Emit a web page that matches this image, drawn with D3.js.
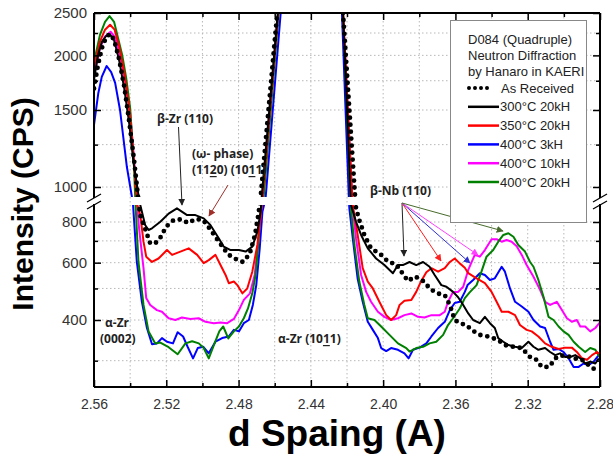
<!DOCTYPE html>
<html>
<head>
<meta charset="utf-8">
<script src="https://cdn.jsdelivr.net/npm/d3@7/dist/d3.min.js"></script>
<style>
  body { margin: 0; background: #fff; }
  svg { display: block; }
  text { font-family: 'Liberation Sans', Arial, sans-serif; }
  .ann { font-family: 'Open Sans', sans-serif; font-weight: 700; font-size: 12px; fill: #222; }
</style>
</head>
<body>
<div id="chart"></div>
<script>
// d spacing (A) vs intensity (CPS)
const asReceived = [[2.5600,1680],[2.5578,1900],[2.5556,2080],[2.5533,2200],[2.5511,2240],[2.5489,2170],[2.5461,1960],[2.5433,1700],[2.5406,1420],[2.5378,1150],[2.5356,948],[2.5344,840],[2.5289,688],[2.5261,688],[2.5233,716],[2.5200,775],[2.5159,811],[2.5118,815],[2.5079,794],[2.5039,817],[2.4996,811],[2.4961,765],[2.4909,696],[2.4859,637],[2.4822,618],[2.4776,603],[2.4739,637],[2.4709,730],[2.4691,840],[2.4678,948],[2.4586,2500],[2.4400,20000],[2.4222,2500],[2.4150,881],[2.4132,811],[2.4104,730],[2.4067,664],[2.4015,637],[2.3971,603],[2.3928,593],[2.3863,527],[2.3822,544],[2.3779,527],[2.3737,497],[2.3700,483],[2.3659,477],[2.3631,445],[2.3604,400],[2.3576,391],[2.3539,386],[2.3511,373],[2.3465,360],[2.3418,356],[2.3363,347],[2.3326,335],[2.3279,331],[2.3233,328],[2.3187,308],[2.3159,305],[2.3122,287],[2.3082,287],[2.3039,308],[2.2993,312],[2.2946,305],[2.2900,302],[2.2863,291],[2.2826,281]]

const c300_20k = [[2.5600,1757],[2.5578,2004],[2.5556,2150],[2.5533,2215],[2.5511,2231],[2.5489,2170],[2.5461,1952],[2.5433,1685],[2.5406,1408],[2.5383,1153],[2.5361,1000],[2.5344,902],[2.5317,783],[2.5298,756],[2.5279,765],[2.5233,801],[2.5187,849],[2.5141,881],[2.5085,840],[2.5039,840],[2.4993,821],[2.4956,783],[2.4909,712],[2.4882,672],[2.4844,656],[2.4798,656],[2.4761,649],[2.4724,672],[2.4696,747],[2.4678,860],[2.4672,948],[2.4583,2500],[2.4400,20000],[2.4222,2500],[2.4178,902],[2.4150,801],[2.4122,730],[2.4085,664],[2.4039,618],[2.3993,590],[2.3946,557],[2.3918,590],[2.3891,590],[2.3854,603],[2.3817,590],[2.3779,603],[2.3743,583],[2.3715,550],[2.3678,512],[2.3650,506],[2.3613,488],[2.3585,470],[2.3557,445],[2.3529,419],[2.3502,400],[2.3465,391],[2.3437,409],[2.3409,391],[2.3382,378],[2.3363,352],[2.3335,343],[2.3307,335],[2.3270,331],[2.3233,328],[2.3196,343],[2.3168,331],[2.3141,324],[2.3104,328],[2.3076,319],[2.3048,312],[2.3021,316],[2.2993,308],[2.2965,308],[2.2937,312],[2.2909,305],[2.2882,294],[2.2854,298],[2.2826,294],[2.2807,305]]

const c350_20k = [[2.5600,1880],[2.5567,2150],[2.5539,2290],[2.5511,2350],[2.5486,2290],[2.5461,2100],[2.5433,1830],[2.5406,1530],[2.5383,1200],[2.5361,905],[2.5344,840],[2.5326,696],[2.5311,626],[2.5279,603],[2.5243,618],[2.5196,656],[2.5168,634],[2.5122,649],[2.5076,664],[2.5029,634],[2.4993,598],[2.4965,611],[2.4928,634],[2.4900,590],[2.4872,550],[2.4854,519],[2.4826,525],[2.4807,512],[2.4779,483],[2.4752,500],[2.4724,563],[2.4696,680],[2.4678,840],[2.4667,948],[2.4581,2500],[2.4400,20000],[2.4222,2500],[2.4168,902],[2.4141,730],[2.4113,577],[2.4085,525],[2.4057,500],[2.4021,455],[2.3983,414],[2.3956,400],[2.3928,414],[2.3909,445],[2.3882,458],[2.3844,461],[2.3817,488],[2.3793,522],[2.3761,561],[2.3733,577],[2.3696,563],[2.3659,577],[2.3631,603],[2.3604,618],[2.3576,597],[2.3548,579],[2.3529,557],[2.3483,537],[2.3437,519],[2.3400,488],[2.3372,455],[2.3344,424],[2.3307,424],[2.3270,414],[2.3243,386],[2.3206,373],[2.3178,369],[2.3141,356],[2.3104,339],[2.3067,331],[2.3029,326],[2.2993,329],[2.2956,329],[2.2928,319],[2.2900,305],[2.2872,302],[2.2844,312],[2.2817,319],[2.2793,312]]

const c400_3k = [[2.5600,1387],[2.5576,1641],[2.5557,1786],[2.5530,1891],[2.5505,1832],[2.5483,1730],[2.5456,1500],[2.5418,1111],[2.5385,922],[2.5363,603],[2.5335,455],[2.5307,378],[2.5279,337],[2.5252,339],[2.5224,352],[2.5196,343],[2.5163,339],[2.5137,367],[2.5107,356],[2.5082,331],[2.5052,305],[2.5026,328],[2.4996,331],[2.4965,316],[2.4928,343],[2.4891,352],[2.4854,356],[2.4826,373],[2.4798,369],[2.4771,391],[2.4743,400],[2.4721,445],[2.4702,512],[2.4683,664],[2.4668,860],[2.4650,948],[2.4567,2500],[2.4400,20000],[2.4228,2500],[2.4187,881],[2.4168,712],[2.4141,535],[2.4113,455],[2.4085,395],[2.4057,373],[2.4029,352],[2.4011,328],[2.3983,321],[2.3956,328],[2.3918,324],[2.3882,316],[2.3859,305],[2.3835,324],[2.3798,329],[2.3761,339],[2.3733,356],[2.3696,378],[2.3659,395],[2.3631,429],[2.3604,451],[2.3576,455],[2.3548,488],[2.3533,512],[2.3502,531],[2.3465,557],[2.3437,550],[2.3409,531],[2.3382,537],[2.3344,583],[2.3326,563],[2.3298,500],[2.3270,455],[2.3233,440],[2.3196,424],[2.3168,400],[2.3131,382],[2.3104,378],[2.3076,343],[2.3057,324],[2.3029,326],[2.3002,319],[2.2974,305],[2.2946,287],[2.2918,287],[2.2891,294],[2.2863,291],[2.2835,298],[2.2807,312],[2.2793,305]]

const c400_10k = [[2.5600,1800],[2.5567,2080],[2.5539,2210],[2.5508,2265],[2.5483,2200],[2.5456,2000],[2.5428,1750],[2.5400,1480],[2.5378,1150],[2.5350,760],[2.5326,577],[2.5311,467],[2.5289,445],[2.5252,429],[2.5224,424],[2.5187,405],[2.5150,400],[2.5113,407],[2.5067,403],[2.5021,405],[2.4983,395],[2.4937,391],[2.4900,393],[2.4863,391],[2.4826,403],[2.4798,429],[2.4771,461],[2.4737,483],[2.4711,550],[2.4691,696],[2.4674,881],[2.4664,948],[2.4581,2500],[2.4400,20000],[2.4222,2500],[2.4168,881],[2.4150,712],[2.4122,550],[2.4094,488],[2.4067,455],[2.4029,424],[2.3993,409],[2.3956,400],[2.3918,405],[2.3882,414],[2.3844,419],[2.3807,409],[2.3771,407],[2.3733,414],[2.3687,414],[2.3659,424],[2.3641,455],[2.3613,488],[2.3585,488],[2.3557,506],[2.3529,570],[2.3493,634],[2.3465,626],[2.3437,656],[2.3400,708],[2.3372,708],[2.3344,696],[2.3317,704],[2.3289,696],[2.3261,674],[2.3233,634],[2.3206,590],[2.3168,543],[2.3131,494],[2.3104,455],[2.3076,445],[2.3039,455],[2.3011,429],[2.2983,405],[2.2956,395],[2.2928,400],[2.2909,382],[2.2882,382],[2.2854,369],[2.2826,378],[2.2798,395]]

const c400_20k = [[2.5600,1932],[2.5567,2228],[2.5539,2386],[2.5514,2460],[2.5489,2386],[2.5467,2193],[2.5444,2004],[2.5422,1776],[2.5400,1516],[2.5378,1100],[2.5354,603],[2.5326,445],[2.5298,369],[2.5261,339],[2.5233,341],[2.5187,330],[2.5137,314],[2.5094,339],[2.5057,344],[2.5020,339],[2.4993,328],[2.4965,305],[2.4933,339],[2.4906,370],[2.4885,382],[2.4857,351],[2.4826,369],[2.4798,382],[2.4771,405],[2.4748,434],[2.4724,483],[2.4706,550],[2.4691,680],[2.4678,860],[2.4661,948],[2.4578,2500],[2.4400,20000],[2.4222,2500],[2.4178,881],[2.4159,680],[2.4132,525],[2.4104,445],[2.4085,405],[2.4048,400],[2.4011,382],[2.3965,360],[2.3918,339],[2.3872,328],[2.3854,320],[2.3817,328],[2.3779,331],[2.3743,339],[2.3706,343],[2.3668,360],[2.3641,386],[2.3613,405],[2.3576,434],[2.3548,467],[2.3520,487],[2.3483,512],[2.3456,563],[2.3428,626],[2.3391,656],[2.3363,696],[2.3335,730],[2.3307,739],[2.3279,721],[2.3252,680],[2.3215,649],[2.3187,603],[2.3168,583],[2.3141,531],[2.3113,472],[2.3085,409],[2.3057,400],[2.3029,382],[2.3002,369],[2.2974,360],[2.2946,343],[2.2918,331],[2.2882,319],[2.2854,328],[2.2826,324],[2.2798,305]]

const xMajor = [2.56, 2.52, 2.48, 2.44, 2.40, 2.36, 2.32, 2.28]
const xMinor = [2.54, 2.50, 2.46, 2.42, 2.38, 2.34, 2.30]
const upperLabels = [1000, 1500, 2000, 2500]
const upperMinor = [1250, 1750, 2250]
const lowerLabels = [400, 600, 800]
const lowerMinor = [300, 500, 700]

const legendTitle = ['D084 (Quadruple)', 'Neutron Diffraction', 'by Hanaro in KAERI']
const series = [
  { name: '400°C 3kH', color: '#0000ff', data: c400_3k },
  { name: '400°C 10kH', color: '#ff00ff', data: c400_10k },
  { name: '400°C 20kH', color: '#008000', data: c400_20k },
  { name: '350°C 20kH', color: '#ff0000', data: c350_20k },
  { name: '300°C 20kH', color: '#000000', data: c300_20k },
  { name: 'As Received', color: '#000000', data: asReceived, dotted: true }
]
const legendOrder = ['As Received', '300°C 20kH', '350°C 20kH', '400°C 3kH', '400°C 10kH', '400°C 20kH']

const W = 613, H = 457
const pL = 94, pR = 600, pT = 13, pB = 387

const svg = d3.select('#chart').append('svg').attr('width', W).attr('height', H)

const x = d3.scaleLinear().domain([2.56, 2.28]).range([pL, pR])
const yUp = d3.scaleLog().domain([1000, 2500]).range([187, 13])
const yLo = d3.scaleLog().domain([400, 800]).range([320, 222])

const panels = [
  { id: 'clipUp', y: yUp, y0: pT, y1: 197, ticks: upperLabels, minor: upperMinor },
  { id: 'clipLo', y: yLo, y0: 205, y1: pB, ticks: lowerLabels, minor: lowerMinor }
]

// grid
const grid = svg.append('g').attr('stroke', '#b8b8b8').attr('stroke-width', 1).attr('stroke-dasharray', '1.5,2.5')
xMinor.concat(xMajor.slice(1, -1)).forEach(v => {
  grid.append('line').attr('x1', x(v)).attr('x2', x(v)).attr('y1', pT).attr('y2', pB)
})
panels.forEach(p => {
  p.ticks.concat(p.minor).forEach(v => {
    const yy = p.y(v)
    if (yy < pT + 2) return
    grid.append('line').attr('x1', pL).attr('x2', pR).attr('y1', yy).attr('y2', yy)
  })
})

// series, drawn once per panel and clipped
panels.forEach(p => {
  svg.append('clipPath').attr('id', p.id).append('rect')
    .attr('x', pL).attr('y', p.y0).attr('width', pR - pL).attr('height', p.y1 - p.y0)
  const line = d3.line().x(d => x(d[0])).y(d => p.y(d[1]))
  const g = svg.append('g').attr('clip-path', `url(#${p.id})`)
  series.forEach(s => {
    const path = g.append('path').attr('d', line(s.data)).attr('fill', 'none').attr('stroke', s.color)
    if (s.dotted) {
      path.attr('stroke-width', 4.8).attr('stroke-linecap', 'round').attr('stroke-dasharray', '0,7')
    } else {
      path.attr('stroke-width', 2).attr('stroke-linejoin', 'round')
    }
  })
})

// axes with inward ticks
const fmt = d3.format('d')
panels.forEach(p => {
  const gl = svg.append('g').attr('transform', `translate(${pL},0)`)
    .call(d3.axisLeft(p.y).tickValues(p.ticks).tickFormat(fmt).tickSize(-7).tickPadding(7))
  gl.selectAll('text').attr('font-size', 15).attr('fill', '#333')
  svg.append('g').attr('transform', `translate(${pL},0)`)
    .call(d3.axisLeft(p.y).tickValues(p.minor).tickFormat('').tickSize(-4))
  svg.append('g').attr('transform', `translate(${pR},0)`)
    .call(d3.axisRight(p.y).tickValues(p.ticks).tickFormat('').tickSize(-7))
  svg.append('g').attr('transform', `translate(${pR},0)`)
    .call(d3.axisRight(p.y).tickValues(p.minor).tickFormat('').tickSize(-4))
})
const gx = svg.append('g').attr('transform', `translate(0,${pB})`)
  .call(d3.axisBottom(x).tickValues(xMajor).tickFormat(d3.format('.2f')).tickSize(-7).tickPadding(12))
gx.selectAll('text').attr('font-size', 14).attr('fill', '#333')
svg.append('g').attr('transform', `translate(0,${pB})`)
  .call(d3.axisBottom(x).tickValues(xMinor).tickFormat('').tickSize(-4))
svg.append('g').attr('transform', `translate(0,${pT})`)
  .call(d3.axisTop(x).tickValues(xMajor).tickFormat('').tickSize(-7))
svg.append('g').attr('transform', `translate(0,${pT})`)
  .call(d3.axisTop(x).tickValues(xMinor).tickFormat('').tickSize(-4))
svg.selectAll('.domain').remove()
svg.selectAll('.tick line').attr('stroke', '#000').attr('stroke-width', 1.5)

// frame with broken y axis
const frame = svg.append('g').attr('stroke', '#000').attr('stroke-width', 2).attr('fill', 'none')
frame.append('line').attr('x1', pL).attr('x2', pR).attr('y1', pT).attr('y2', pT)
frame.append('line').attr('x1', pL).attr('x2', pR).attr('y1', pB).attr('y2', pB)
;[pL, pR].forEach(xx => {
  frame.append('line').attr('x1', xx).attr('x2', xx).attr('y1', pT).attr('y2', 198)
  frame.append('line').attr('x1', xx).attr('x2', xx).attr('y1', 204).attr('y2', pB)
  frame.append('line').attr('x1', xx - 7).attr('y1', 202).attr('x2', xx + 7).attr('y2', 194).attr('stroke-width', 1.2)
  frame.append('line').attr('x1', xx - 7).attr('y1', 209).attr('x2', xx + 7).attr('y2', 201).attr('stroke-width', 1.2)
})

// axis titles
svg.append('text').attr('x', 337).attr('y', 446).attr('text-anchor', 'middle')
  .attr('font-size', 37).attr('font-weight', 700).attr('fill', '#000').text('d Spaing (A)')
svg.append('text').attr('transform', 'translate(33,204) rotate(-90)').attr('text-anchor', 'middle')
  .attr('font-size', 30).attr('font-weight', 700).attr('fill', '#000').text('Intensity (CPS)')

// arrows
const defs = svg.append('defs')
function arrow(x1, y1, x2, y2, color) {
  const id = 'ah' + color.replace('#', '')
  if (defs.select('#' + id).empty()) {
    defs.append('marker').attr('id', id).attr('viewBox', '0 0 10 10').attr('refX', 9).attr('refY', 5)
      .attr('markerWidth', 7).attr('markerHeight', 7).attr('markerUnits', 'userSpaceOnUse').attr('orient', 'auto')
      .append('path').attr('d', 'M0,0L10,5L0,10Z').attr('fill', color)
  }
  svg.append('line').attr('x1', x1).attr('y1', y1).attr('x2', x2).attr('y2', y2)
    .attr('stroke', color).attr('stroke-width', 1).attr('marker-end', `url(#${id})`)
}
arrow(178.5, 127, 182, 205, '#222222')
arrow(228, 185, 209, 216, '#a0302a')
arrow(402, 203, 404, 256, '#222222')
arrow(402, 203, 441, 261, '#ff2020')
arrow(402, 203, 470, 263, '#3030d0')
arrow(402, 203, 478, 255, '#ff40ff')
arrow(402, 203, 503, 231, '#476b2b')

// annotations
function ann(tx, ty, parts) {
  const t = svg.append('text').attr('class', 'ann').attr('x', tx).attr('y', ty).attr('dominant-baseline', 'central')
  parts.forEach(p => {
    const ts = t.append('tspan').text(typeof p === 'string' ? p : p.u)
    if (typeof p !== 'string') ts.style('text-decoration', 'underline')
  })
}
ann(157, 118, ['β-Zr (110)'])
ann(192, 153, ['(ω- phase)'])
ann(192, 169, ['(11', { u: '2' }, '0) (10', { u: '1' }, '1)'])
ann(105, 322, ['α-Zr'])
ann(100, 338, ['(0002)'])
ann(278, 338, ['α-Zr (10', { u: '1' }, '1)'])
ann(370, 190, ['β-Nb (110)'])

// legend
const lg = svg.append('g')
svg.append('clipPath').attr('id', 'clipLegend').append('rect').attr('x', 450).attr('y', 20).attr('width', 137).attr('height', 203)
lg.append('rect').attr('x', 450.5).attr('y', 20.5).attr('width', 136).attr('height', 202)
  .attr('fill', '#fff').attr('stroke', '#888').attr('stroke-width', 1)
const lt = lg.append('g').attr('clip-path', 'url(#clipLegend)')
legendTitle.forEach((s, i) => {
  lt.append('text').attr('x', 468).attr('y', 39 + i * 16).attr('dominant-baseline', 'central')
    .attr('font-size', 13).attr('fill', '#222').text(s)
})
legendOrder.forEach((name, i) => {
  const s = series.find(d => d.name === name)
  const yy = 88 + i * 18.8
  if (s.dotted) {
    lt.append('line').attr('x1', 469).attr('x2', 488).attr('y1', yy).attr('y2', yy)
      .attr('stroke', '#000').attr('stroke-width', 4).attr('stroke-linecap', 'round').attr('stroke-dasharray', '0,6')
  } else {
    lt.append('line').attr('x1', 468).attr('x2', 499).attr('y1', yy).attr('y2', yy)
      .attr('stroke', s.color).attr('stroke-width', 2.5)
  }
  lt.append('text').attr('x', s.dotted ? 501 : 500).attr('y', yy).attr('dominant-baseline', 'central')
    .attr('font-size', 13).attr('fill', '#222').text(name)
})
</script>
</body>
</html>
